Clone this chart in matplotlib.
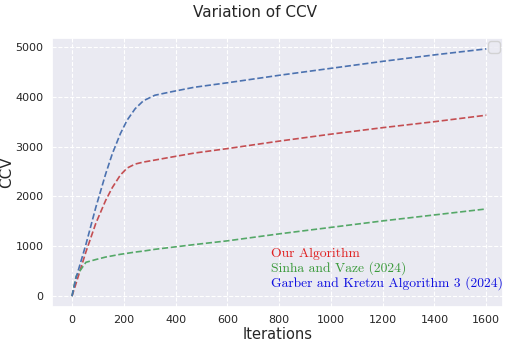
import numpy as np
import matplotlib
matplotlib.use("Agg")
import matplotlib.pyplot as plt
import seaborn as sns

sns.set_theme(style="darkgrid")

iters = [0, 16, 54, 92, 130, 156, 187, 213, 244, 276, 320, 384, 472, 600, 800, 1000, 1200, 1400, 1600]
ours = [0, 260, 890, 1460, 1920, 2180, 2430, 2570, 2650, 2690, 2730, 2790, 2870, 2960, 3110, 3250, 3380, 3500, 3630]
sinha = [0, 400, 680, 735, 785, 810, 840, 860, 885, 905, 940, 980, 1035, 1110, 1250, 1380, 1510, 1630, 1750]
garber = [0, 370, 1040, 1780, 2450, 2860, 3260, 3530, 3760, 3920, 4030, 4100, 4190, 4280, 4430, 4570, 4710, 4840, 4960]

fig = plt.figure(figsize=(5.1, 3.42), dpi=100)
ax = fig.add_axes([0.102, 0.102, 0.884, 0.787])
ax.plot(iters, ours, "--", color="#c44e52", lw=1.2)
ax.plot(iters, sinha, "--", color="#55a868", lw=1.2)
ax.plot(iters, garber, "--", color="#4c72b0", lw=1.2)
ax.grid(True, linestyle="--", color="white", lw=0.8)
ax.set_xlim(-77, 1664)
ax.set_ylim(-219, 5179)
ax.set_xticks([0, 200, 400, 600, 800, 1000, 1200, 1400, 1600])
ax.set_yticks([0, 1000, 2000, 3000, 4000, 5000])
ax.tick_params(labelsize=8, length=0, pad=6)
ax.set_xlabel("Iterations", fontsize=10.5)
ax.set_ylabel("CCV", fontsize=11)
ax.xaxis.set_label_coords(0.5, -0.075)
ax.yaxis.set_label_coords(-0.084, 0.5)
fig.suptitle("Variation of CCV", fontsize=11, y=0.985)

ax.legend(handles=[], loc="upper right", borderaxespad=0.2)

ax.text(0.486, 0.187, "Our Algorithm", transform=ax.transAxes, color="#e02020", family="cmr10", fontsize=9.8)
ax.text(0.486, 0.131, "Sinha and Vaze (2024)", transform=ax.transAxes, color="#3a9a3a", family="cmr10", fontsize=9.8)
ax.text(0.486, 0.078, "Garber and Kretzu Algorithm 3 (2024)", transform=ax.transAxes, color="#1010e0", family="cmr10", fontsize=9.8)

fig.savefig("out.png", dpi=100)
